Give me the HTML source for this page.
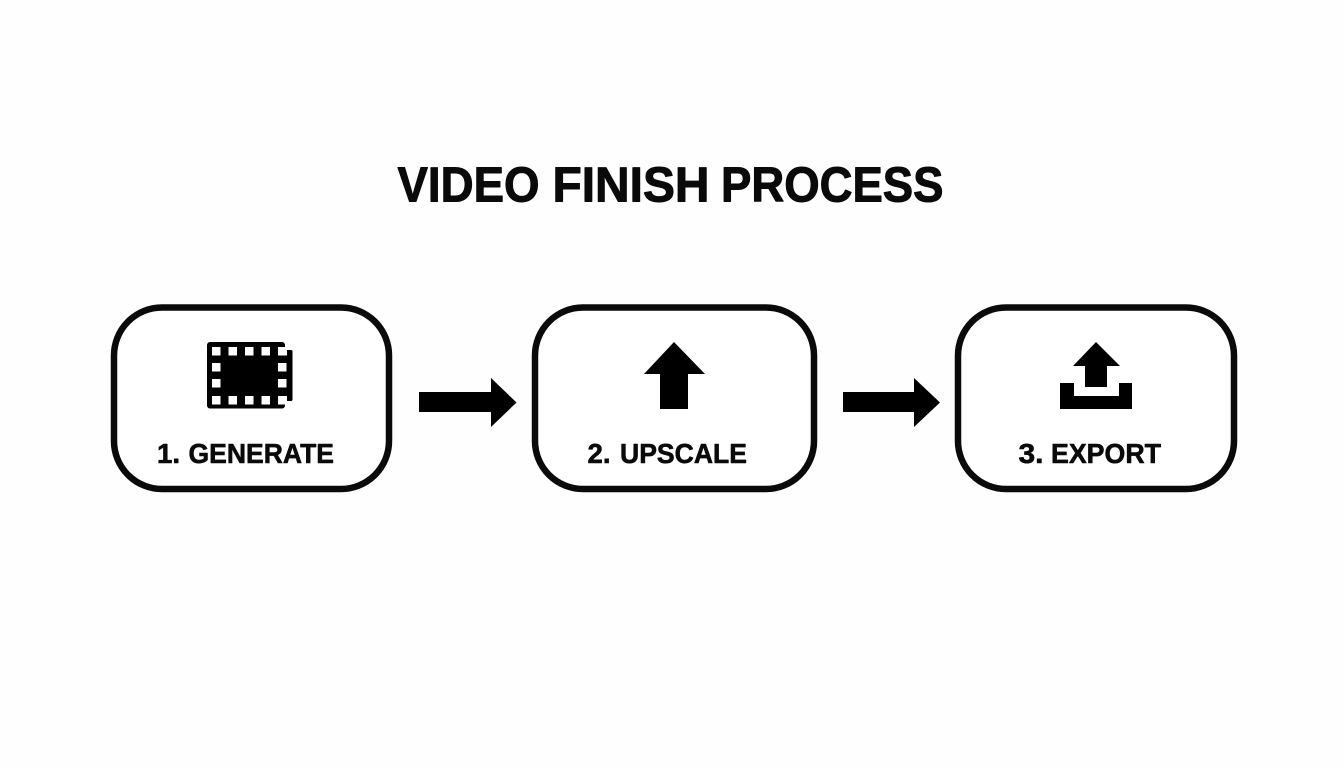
<!DOCTYPE html>
<html>
<head>
<meta charset="utf-8">
<style>
html,body{margin:0;padding:0;background:#fefefe;width:1344px;height:768px;overflow:hidden}
svg{display:block}
text{font-family:"Liberation Sans",Arial,sans-serif;font-weight:700;fill:#0a0a0a;stroke:#0a0a0a;stroke-linejoin:round}
</style>
</head>
<body>
<svg width="1344" height="768" viewBox="0 0 1344 768" xmlns="http://www.w3.org/2000/svg">
<rect width="1344" height="768" fill="#fefefe"/>
<g font-size="49.500" stroke-width="1">
<text x="397.500" y="201.500" textLength="142" lengthAdjust="spacingAndGlyphs">VIDEO</text>
<text x="552.500" y="201.500" textLength="157" lengthAdjust="spacingAndGlyphs">FINISH</text>
<text x="721" y="201.500" textLength="222.500" lengthAdjust="spacingAndGlyphs">PROCESS</text>
</g>

<g fill="#fff" stroke="#0a0a0a" stroke-width="6.5">
<rect x="114" y="307.500" width="275" height="181.500" rx="48"/>
<rect x="535" y="307.500" width="279" height="181.500" rx="48"/>
<rect x="958" y="307.500" width="276" height="181.500" rx="48"/>
</g>

<!-- film icon -->
<rect x="207" y="342" width="78" height="66.500" rx="3" fill="#000"/>
<path d="M284 350h7a1.500 1.500 0 0 1 1.500 1.500v48a1.500 1.500 0 0 1-1.500 1.500h-7z" fill="#000"/>
<g fill="#fff">
<rect x="212" y="347" width="8.500" height="8.500"/><rect x="228.500" y="347" width="8.500" height="8.500"/><rect x="245" y="347" width="8.500" height="8.500"/><rect x="261.500" y="347" width="8.500" height="8.500"/><rect x="278" y="347" width="9" height="8.500"/>
<rect x="212" y="363" width="8.500" height="8.500"/><rect x="278" y="363" width="8.500" height="8.500"/>
<rect x="212" y="379" width="8.500" height="8.500"/><rect x="278" y="379" width="8.500" height="8.500"/>
<rect x="212" y="396" width="8.500" height="8.500"/><rect x="228.500" y="396" width="8.500" height="8.500"/><rect x="245" y="396" width="8.500" height="8.500"/><rect x="261.500" y="396" width="8.500" height="8.500"/><rect x="278" y="396" width="9" height="8.500"/>
</g>

<!-- up arrow -->
<polygon points="674,342 705,374 688,374 688,409 660,409 660,374 644,374" fill="#000"/>

<!-- export icon -->
<polygon points="1096,342 1120,366 1107,366 1107,387 1085,387 1085,366 1073,366" fill="#000"/>
<polygon points="1060,383 1074,383 1074,396 1119,396 1119,383 1132,383 1132,409 1060,409" fill="#000"/>

<!-- connector arrows -->
<polygon points="419,392 491,392 491,378 516.500,402.500 491,427 491,412 419,412" fill="#000"/>
<polygon points="843,392 914,392 914,378 940,402.500 914,427 914,412 843,412" fill="#000"/>

<g font-size="27.500" stroke-width="0.6">
<text x="157" y="463" textLength="23" lengthAdjust="spacingAndGlyphs">1.</text>
<text x="188.500" y="463" textLength="145.500" lengthAdjust="spacingAndGlyphs">GENERATE</text>
<text x="587.500" y="463" textLength="23" lengthAdjust="spacingAndGlyphs">2.</text>
<text x="620" y="463" textLength="127" lengthAdjust="spacingAndGlyphs">UPSCALE</text>
<text x="1018.500" y="463" textLength="25" lengthAdjust="spacingAndGlyphs">3.</text>
<text x="1051" y="463" textLength="110" lengthAdjust="spacingAndGlyphs">EXPORT</text>
</g>
</svg>
</body>
</html>
